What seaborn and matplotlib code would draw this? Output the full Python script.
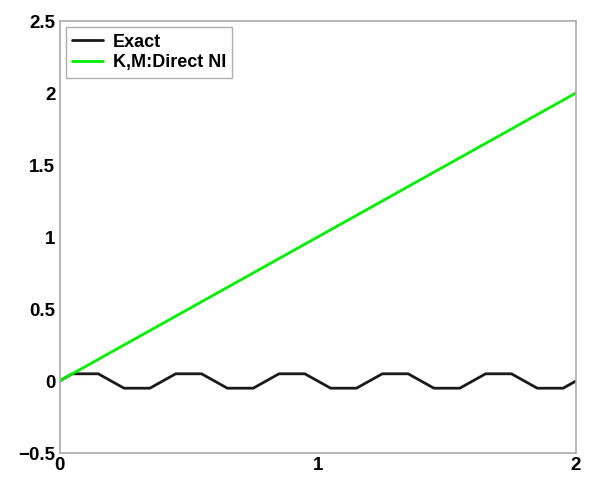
import matplotlib
matplotlib.use("Agg")
import matplotlib.pyplot as plt
import seaborn as sns
import pandas as pd

# Data
exact_x = [0, 0.05, 0.15, 0.25, 0.35, 0.45, 0.55, 0.65, 0.75, 0.85, 0.95,
           1.05, 1.15, 1.25, 1.35, 1.45, 1.55, 1.65, 1.75, 1.85, 1.95, 2.0]
exact_y = [0, 0.05, 0.05, -0.05, -0.05, 0.05, 0.05, -0.05, -0.05, 0.05, 0.05,
           -0.05, -0.05, 0.05, 0.05, -0.05, -0.05, 0.05, 0.05, -0.05, -0.05, 0.0]
ni_x = [0.0, 2.0]
ni_y = [0.0, 2.0]
series_names = ["Exact", "K,M:Direct NI"]
x_ticks = [0, 1, 2]
y_ticks = [-0.5, 0, 0.5, 1, 1.5, 2, 2.5]
y_tick_labels = ["\u22120.5", "0", "0.5", "1", "1.5", "2", "2.5"]

sns.set_style("white")
plt.rcParams['font.family'] = ['Liberation Sans', 'DejaVu Sans']

fig = plt.figure(figsize=(5.9, 4.92), dpi=100)
ax = fig.add_axes([59.5 / 590, (492 - 453) / 492, (576 - 59.5) / 590, (453 - 21) / 492])

df_exact = pd.DataFrame({"x": exact_x, "y": exact_y})
df_ni = pd.DataFrame({"x": ni_x, "y": ni_y})
sns.lineplot(data=df_exact, x="x", y="y", ax=ax, color="#1a1a1a", linewidth=2,
             label=series_names[0], sort=False)
sns.lineplot(data=df_ni, x="x", y="y", ax=ax, color="#00ee00", linewidth=2,
             label=series_names[1], sort=False)

ax.set_xlim(0, 2)
ax.set_ylim(-0.5, 2.5)
ax.set_xticks(x_ticks)
ax.set_xticklabels([str(t) for t in x_ticks])
ax.set_yticks(y_ticks)
ax.set_yticklabels(y_tick_labels)
ax.set_xlabel("")
ax.set_ylabel("")
for s in ax.spines.values():
    s.set_color("#aaaaaa")
    s.set_linewidth(1.2)
ax.tick_params(direction="in", length=4, width=0.8, color="#999999",
               labelsize=13.5, labelcolor="black", pad=3)
for lbl in ax.get_xticklabels() + ax.get_yticklabels():
    lbl.set_fontweight("bold")

leg = ax.legend(loc="upper left", frameon=True, fancybox=False,
                prop={"weight": "bold", "size": 13}, borderpad=0.35,
                handlelength=1.7, labelspacing=0.2, borderaxespad=0.35,
                handletextpad=0.55)
leg.get_frame().set_edgecolor("#999999")
leg.get_frame().set_linewidth(1.0)
for t in leg.get_texts():
    t.set_color("black")

fig.savefig("out.png", dpi=100)
